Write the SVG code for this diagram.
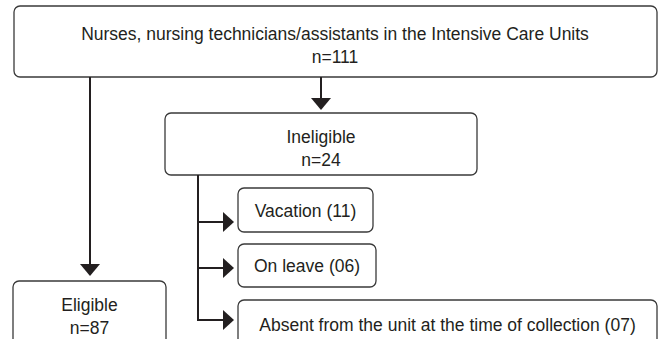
<svg xmlns="http://www.w3.org/2000/svg" width="659" height="339" viewBox="0 0 659 339">
<style>
.box{fill:#fff;stroke:#3a3a3a;stroke-width:1.3}
.t{font-family:"Liberation Sans",Arial,sans-serif;font-size:17.5px;fill:#231f20;text-anchor:middle}
.c{stroke:#231f20;stroke-width:2;fill:none}
.h{fill:#231f20}
</style>
<rect width="659" height="339" fill="#fff"/>
<g id="n-total"><rect class="box" x="14" y="6" width="643" height="71" rx="6"/>
<text class="t" x="335" y="40">Nurses, nursing technicians/assistants in the Intensive Care Units</text>
<text class="t" x="335" y="63">n=111</text></g>
<g id="n-ineligible"><rect class="box" x="165" y="113" width="312" height="62" rx="6"/>
<text class="t" x="321" y="143">Ineligible</text>
<text class="t" x="321" y="166">n=24</text></g>
<g id="n-vacation"><rect class="box" x="238" y="188" width="135" height="44" rx="6"/>
<text class="t" x="305.5" y="217">Vacation (11)</text></g>
<g id="n-leave"><rect class="box" x="238" y="244" width="138" height="43" rx="6"/>
<text class="t" x="307" y="272">On leave (06)</text></g>
<g id="n-absent"><rect class="box" x="238" y="300" width="419" height="50" rx="6"/>
<text class="t" x="447.5" y="331">Absent from the unit at the time of collection (07)</text></g>
<g id="n-eligible"><rect class="box" x="13" y="281" width="153" height="70" rx="6"/>
<text class="t" x="89.5" y="311">Eligible</text>
<text class="t" x="89.5" y="334">n=87</text></g>
<g id="connectors">
<path class="c" d="M90 77V265"/><path class="h" d="M80 264H100L90 276Z"/>
<path class="c" d="M321 77V99"/><path class="h" d="M311 98H331L321 110Z"/>
<path class="c" d="M198 175V321M197 222H224M197 268H224M197 320H224"/>
<path class="h" d="M223 212V232L234 222Z"/>
<path class="h" d="M223 258V278L234 268Z"/>
<path class="h" d="M223 310V330L234 320Z"/>
</g>
</svg>
